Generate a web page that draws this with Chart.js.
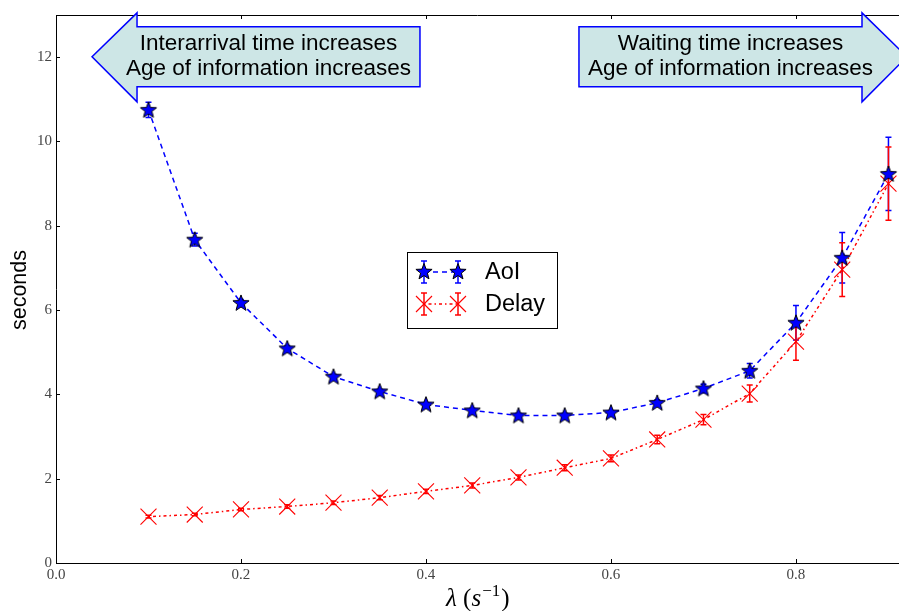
<!DOCTYPE html>
<html>
<head>
<meta charset="utf-8">
<script src="https://cdn.jsdelivr.net/npm/chart.js@4"></script>
<style>
  html, body { margin: 0; padding: 0; background: #fff; }
  #wrap { width: 899px; height: 611px; position: relative; }
</style>
</head>
<body>
<div id="wrap"><canvas id="c"></canvas></div>
<script>
// AoI vs arrival rate λ, with 95% error bars
const lambdas = [0.1, 0.15, 0.2, 0.25, 0.3, 0.35, 0.4, 0.45, 0.5, 0.55, 0.6, 0.65, 0.7, 0.75, 0.8, 0.85, 0.9];
const aoiMean = [10.75, 7.67, 6.17, 5.09, 4.42, 4.07, 3.76, 3.62, 3.50, 3.50, 3.57, 3.80, 4.14, 4.56, 5.70, 7.24, 9.23];
const aoiErr = [0.18, 0.15, 0.08, 0.07, 0.06, 0.05, 0.05, 0.05, 0.05, 0.05, 0.05, 0.07, 0.10, 0.17, 0.41, 0.60, 0.87];
const delayMean = [1.10, 1.15, 1.27, 1.34, 1.43, 1.55, 1.70, 1.84, 2.03, 2.26, 2.48, 2.93, 3.40, 4.02, 5.25, 6.96, 9.00];
const delayErr = [0.03, 0.03, 0.03, 0.04, 0.04, 0.05, 0.05, 0.06, 0.06, 0.07, 0.08, 0.10, 0.12, 0.20, 0.44, 0.64, 0.87];
const xTicks = [0, 0.2, 0.4, 0.6, 0.8];
const yTicks = [0, 2, 4, 6, 8, 10, 12];
const notes = [
  { dir: -1, lines: ['Interarrival time increases', 'Age of information increases'] },
  { dir: 1, lines: ['Waiting time increases', 'Age of information increases'] },
];

const BLUE = '#0000ff', RED = '#ff0000';
const SERIF = '"Liberation Serif", "DejaVu Serif", serif';
const SANS = '"Liberation Sans", Arial, sans-serif';

function starPath(ctx, cx, cy, R) {
  const r = R * 0.42;
  ctx.beginPath();
  for (let i = 0; i < 10; i++) {
    const a = -Math.PI / 2 + i * Math.PI / 5;
    const rr = i % 2 ? r : R;
    ctx.lineTo(cx + rr * Math.cos(a), cy + rr * Math.sin(a));
  }
  ctx.closePath();
}
function drawStar(ctx, cx, cy) {
  starPath(ctx, cx, cy, 8.5);
  ctx.fillStyle = BLUE; ctx.fill();
  ctx.strokeStyle = '#000'; ctx.lineWidth = 1; ctx.stroke();
}
function drawCross(ctx, cx, cy) {
  const h = 8;
  ctx.strokeStyle = RED; ctx.lineWidth = 1.1;
  ctx.beginPath();
  ctx.moveTo(cx - h, cy - h); ctx.lineTo(cx + h, cy + h);
  ctx.moveTo(cx - h, cy + h); ctx.lineTo(cx + h, cy - h);
  ctx.stroke();
}

const starImg = document.createElement('canvas');
starImg.width = starImg.height = 20;
drawStar(starImg.getContext('2d'), 10, 10.5);

function errBar(ctx, x, top, bot, color) {
  ctx.strokeStyle = color; ctx.lineWidth = 1.5;
  ctx.beginPath();
  ctx.moveTo(x, top); ctx.lineTo(x, bot);
  ctx.moveTo(x - 3, top); ctx.lineTo(x + 3, top);
  ctx.moveTo(x - 3, bot); ctx.lineTo(x + 3, bot);
  ctx.stroke();
}

// ── error bars under the lines ──────────────────────────
const errorBars = {
  id: 'errorBars',
  beforeDatasetsDraw(chart) {
    const { ctx, scales: { x, y } } = chart;
    ctx.save();
    chart.data.datasets.forEach(ds => ds.data.forEach(p => {
      errBar(ctx, x.getPixelForValue(p.x), y.getPixelForValue(p.y + p.err), y.getPixelForValue(p.y - p.err), ds.borderColor);
    }));
    ctx.restore();
  },
};

// ── frame, inward ticks, titles, legend, arrows ─────────
const decor = {
  id: 'decor',
  afterDraw(chart) {
    const { ctx, chartArea: a, scales: { x, y } } = chart;
    ctx.save();
    ctx.strokeStyle = '#000'; ctx.lineWidth = 1;
    ctx.beginPath();
    ctx.moveTo(a.left, a.top + 0.5); ctx.lineTo(a.right, a.top + 0.5);
    xTicks.forEach(v => {
      const px = Math.round(x.getPixelForValue(v)) + 0.5;
      ctx.moveTo(px, a.bottom); ctx.lineTo(px, a.bottom - 4);
      ctx.moveTo(px, a.top); ctx.lineTo(px, a.top + 4);
    });
    yTicks.forEach(v => {
      const py = Math.round(y.getPixelForValue(v)) + 0.5;
      ctx.moveTo(a.left, py); ctx.lineTo(a.left + 4, py);
    });
    ctx.stroke();

    // axis titles
    ctx.fillStyle = '#000';
    ctx.textBaseline = 'alphabetic';
    let tx = 446;
    const parts = [['λ ', 'italic 25px '], ['(', '25px '], ['s', 'italic 25px ']];
    parts.forEach(([t, f]) => { ctx.font = f + SERIF; ctx.fillText(t, tx, 606); tx += ctx.measureText(t).width; });
    ctx.font = '17px ' + SERIF; ctx.fillText('−1', tx + 1, 596); tx += ctx.measureText('−1').width + 1;
    ctx.font = '25px ' + SERIF; ctx.fillText(')', tx + 1, 606);

    ctx.save();
    ctx.translate(26, 290); ctx.rotate(-Math.PI / 2);
    ctx.font = '21.5px ' + SANS; ctx.textAlign = 'center';
    ctx.fillText('seconds', 0, 0);
    ctx.restore();

    // legend
    const lx = 407, ly = 252, lw = 150, lh = 76;
    ctx.fillStyle = '#fff'; ctx.fillRect(lx, ly, lw, lh);
    ctx.strokeStyle = '#000'; ctx.lineWidth = 1; ctx.strokeRect(lx + 0.5, ly + 0.5, lw, lh);
    chart.data.datasets.forEach((ds, i) => {
      const cy = ly + 20 + i * 32;
      ctx.save();
      ctx.strokeStyle = ds.borderColor; ctx.lineWidth = 1.5; ctx.setLineDash(ds.borderDash);
      ctx.beginPath(); ctx.moveTo(424, cy); ctx.lineTo(458, cy); ctx.stroke();
      ctx.restore();
      [424, 458].forEach(mx => {
        errBar(ctx, mx, cy - 11, cy + 11, ds.borderColor);
        if (i === 0) drawStar(ctx, mx, cy); else drawCross(ctx, mx, cy);
      });
      ctx.fillStyle = '#000'; ctx.font = '23.5px ' + SANS; ctx.textAlign = 'left'; ctx.textBaseline = 'middle';
      ctx.fillText(ds.label, 485, cy + 1);
    });

    // arrow annotations (placed in data units)
    notes.forEach(n => {
      const base = n.dir < 0 ? x.getPixelForValue(0.0876) : x.getPixelForValue(0.8714);
      const far = n.dir < 0 ? x.getPixelForValue(0.3935) : x.getPixelForValue(0.5654);
      const tip = base + n.dir * 45;
      const yt = y.getPixelForValue(12.72), yb = y.getPixelForValue(11.30);
      const ht = y.getPixelForValue(13.05), hb = y.getPixelForValue(10.94), ym = y.getPixelForValue(12.01);
      ctx.beginPath();
      ctx.moveTo(tip, ym); ctx.lineTo(base, ht); ctx.lineTo(base, yt); ctx.lineTo(far, yt);
      ctx.lineTo(far, yb); ctx.lineTo(base, yb); ctx.lineTo(base, hb); ctx.closePath();
      ctx.fillStyle = 'rgb(205,230,230)'; ctx.fill();
      ctx.strokeStyle = BLUE; ctx.lineWidth = 1.5; ctx.stroke();
      ctx.fillStyle = '#000'; ctx.font = '22.5px ' + SANS; ctx.textAlign = 'center'; ctx.textBaseline = 'middle';
      const cx = (base + far) / 2 + n.dir * 10; // text sits a bit toward the arrow head
      n.lines.forEach((t, k) => ctx.fillText(t, cx, 44 + k * 25));
    });
    ctx.restore();
  },
};

const keepTicks = list => scale => { scale.ticks = list.map(v => ({ value: v })); };

new Chart(document.getElementById('c'), {
  type: 'line',
  data: {
    datasets: [
      {
        label: 'AoI',
        data: lambdas.map((l, i) => ({ x: l, y: aoiMean[i], err: aoiErr[i] })),
        borderColor: BLUE, borderWidth: 1.5, borderDash: [5, 4], tension: 0,
        pointStyle: starImg, pointRadius: 8, pointBorderColor: '#000', pointBackgroundColor: BLUE,
      },
      {
        label: 'Delay',
        data: lambdas.map((l, i) => ({ x: l, y: delayMean[i], err: delayErr[i] })),
        borderColor: RED, borderWidth: 1.5, borderDash: [1.5, 3, 3, 3], tension: 0,
        pointStyle: 'crossRot', pointRadius: 11.3, pointBorderColor: RED, pointBorderWidth: 1.1,
      },
    ],
  },
  options: {
    responsive: true, maintainAspectRatio: false, animation: false,
    layout: { autoPadding: false, padding: { top: 15, right: 0, left: 0, bottom: 0 } },
    plugins: { legend: { display: false }, tooltip: { enabled: false } },
    scales: {
      x: {
        type: 'linear', min: 0, max: 0.9114,
        afterFit: s => { s.height = 48; s.paddingLeft = 0; s.paddingRight = 0; },
        afterBuildTicks: keepTicks(xTicks),
        grid: { display: false, drawTicks: false },
        border: { display: true, color: '#000', width: 1 },
        ticks: { padding: 3, color: '#444', font: { family: SERIF, size: 15 }, callback: v => v.toFixed(1) },
      },
      y: {
        min: 0, max: 13,
        afterFit: s => { s.width = 56; s.paddingTop = 0; s.paddingBottom = 0; },
        afterBuildTicks: keepTicks(yTicks),
        grid: { display: false, drawTicks: false },
        border: { display: true, color: '#000', width: 1 },
        ticks: { padding: 4, color: '#444', font: { family: SERIF, size: 15 } },
      },
    },
  },
  plugins: [errorBars, decor],
});
</script>
</body>
</html>
